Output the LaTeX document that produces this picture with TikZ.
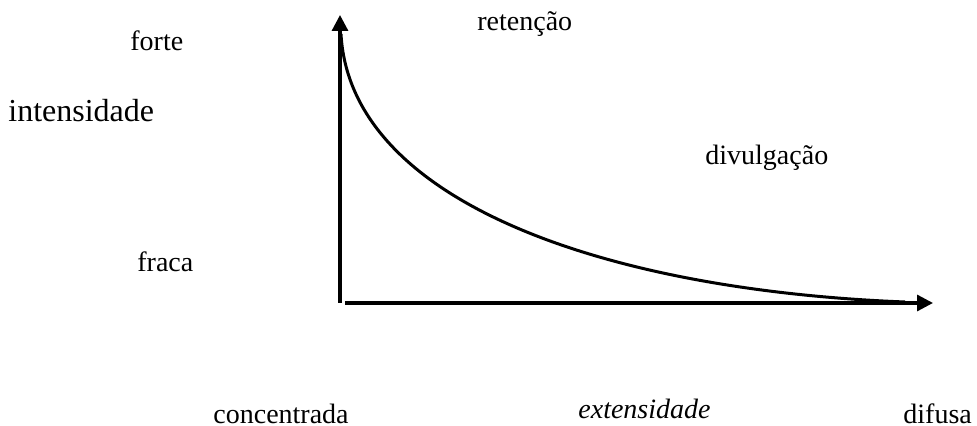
\documentclass[tikz,border=0pt]{standalone}
\usepackage{fontspec}
\setmainfont{Liberation Serif}
\usepackage{tikz}
\usetikzlibrary{arrows.meta}

\begin{document}
\begin{tikzpicture}[x=0.5pt,y=-0.5pt]

    \tikzstyle{lbl} = [anchor=base west, inner sep=0pt, font=\fontsize{14}{16}\selectfont]
    \tikzstyle{axis} = [line width=1.6pt, -{Triangle[length=8pt,width=8pt]}]

    \useasboundingbox (0,0) rectangle (977,426);

    % Corners of the axes
    \coordinate (vbot) at (340,303);
    \coordinate (vtop) at (340,15);
    \coordinate (hleft) at (345,303);
    \coordinate (hright) at (933,303);
    \coordinate (cstart) at (341,34);
    \coordinate (cend) at (905,302);

    % Arrows
    \draw[axis] (vbot) -- (vtop);
    \draw[axis] (hleft) -- (hright);

    % Curve
    \draw[line width=1.5pt] (cstart) .. controls (350,200) and (600,290) .. (cend);

    % Labels
    \node[lbl] at (130,51) (forte) {forte};
    \node[lbl, font=\fontsize{16}{18}\selectfont] at (8,122) (intens) {intensidade};
    \node[lbl] at (137,272) (fraca) {fraca};
    \node[lbl] at (477,31) (reten) {retenção};
    \node[lbl] at (705,165) (divulg) {divulgação};
    \node[lbl] at (213,423) (concent) {concentrada};
    \node[lbl] at (578,418) (extens) {\itshape extensidade};
    \node[lbl] at (903,423) (difusa) {difusa};

\end{tikzpicture}
\end{document}
